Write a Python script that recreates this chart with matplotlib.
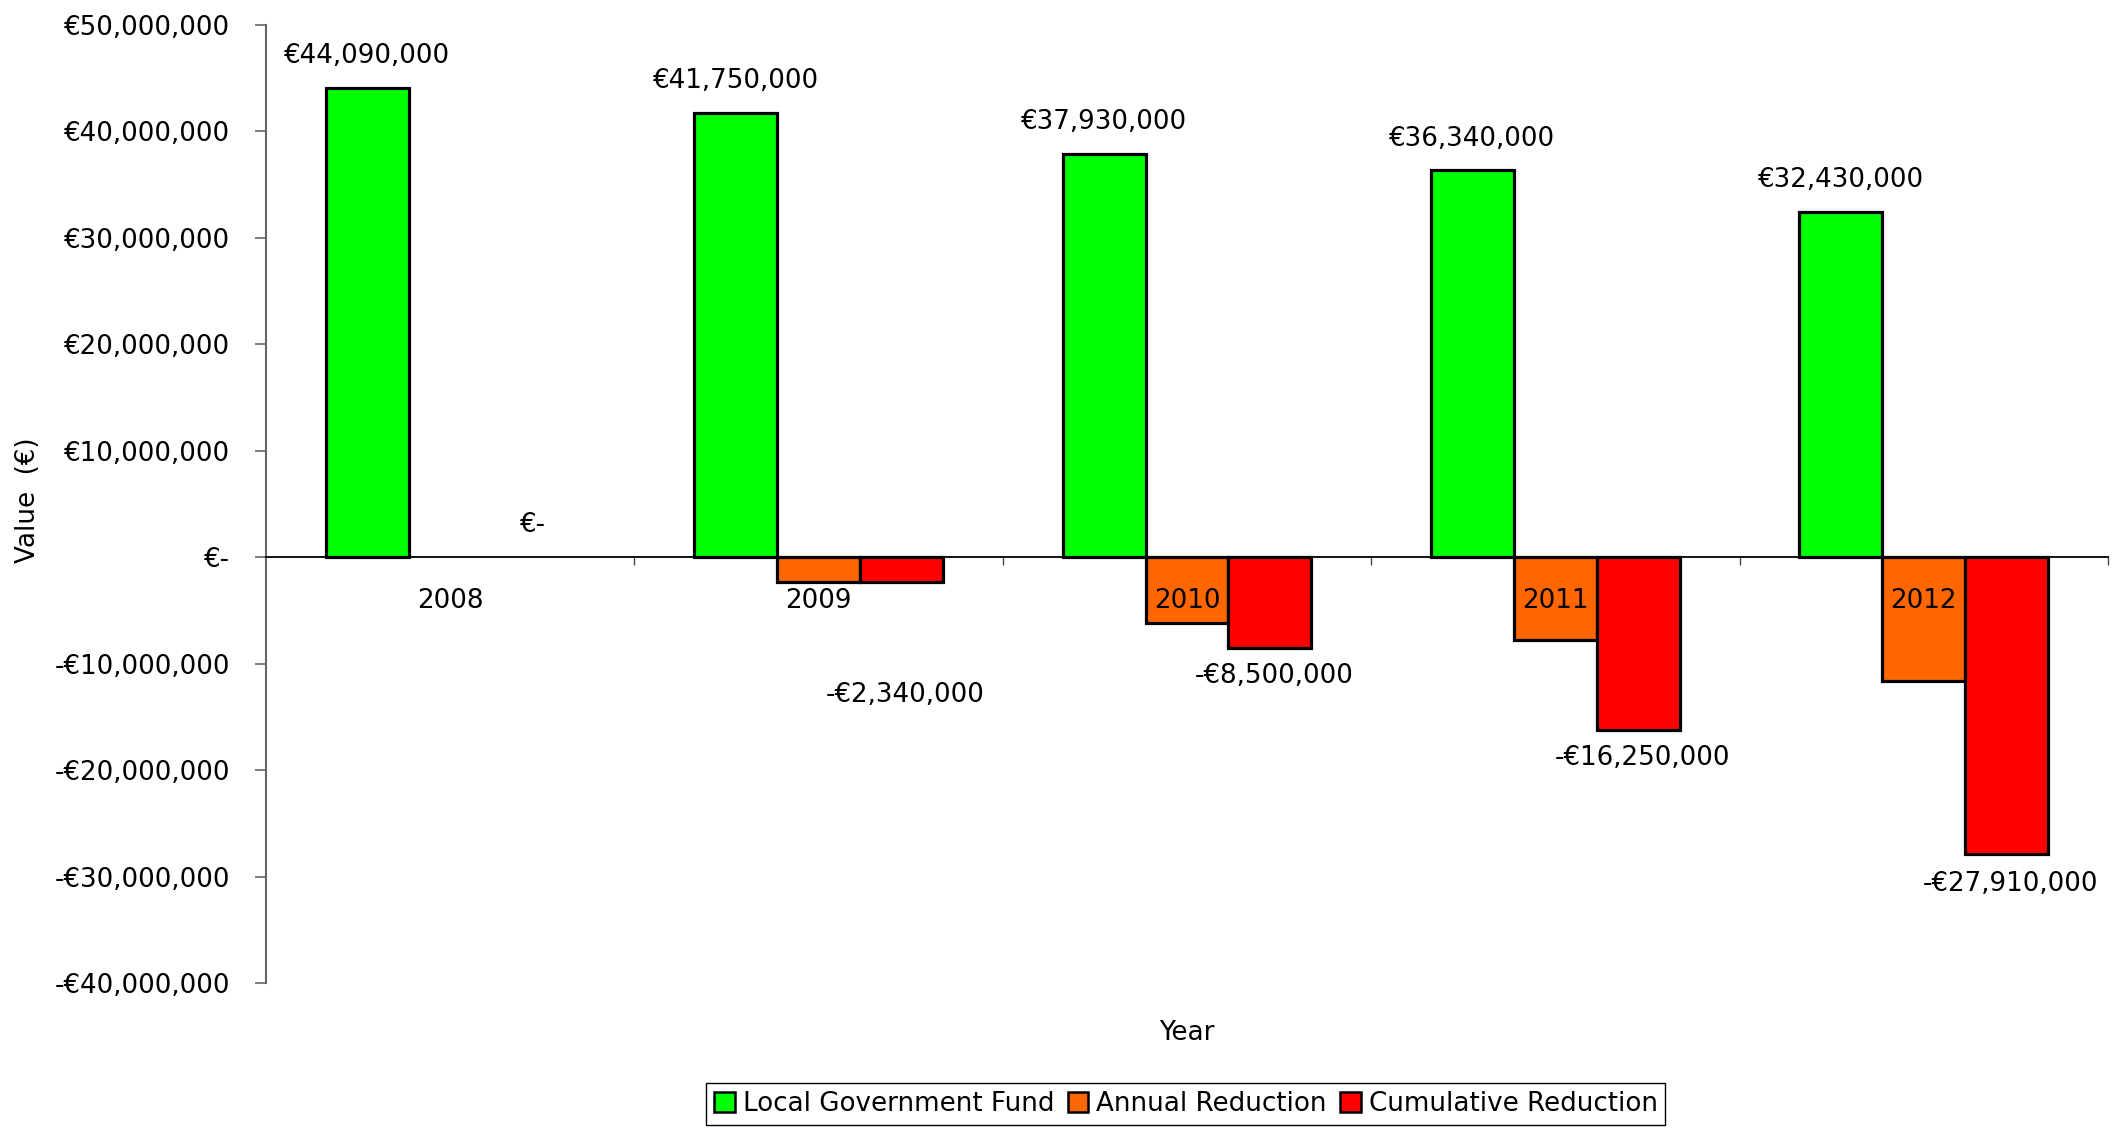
import numpy as np
import matplotlib.pyplot as plt
from matplotlib.patches import Patch
from matplotlib.ticker import FuncFormatter

plt.rcParams['font.family'] = ['DejaVu Sans']
plt.rcParams['font.size'] = 18.8

years = ['2008', '2009', '2010', '2011', '2012']
fund = [44090000, 41750000, 37930000, 36340000, 32430000]
annual = [0, -2340000, -6160000, -7750000, -11660000]
cumulative = [0, -2340000, -8500000, -16250000, -27910000]

series = ['Local Government Fund', 'Annual Reduction', 'Cumulative Reduction']
colors = ['#00ff00', '#ff6600', '#ff0000']


def euro(v, pos=None):
    if v == 0:
        return '€-'
    s = f'€{abs(v):,.0f}'
    return '-' + s if v < 0 else s


def edges(vals):
    # empty bars get no outline
    return [0 if v == 0 else 2.3 for v in vals]


fig, ax = plt.subplots(figsize=(21.2, 11.28), dpi=100)
fig.subplots_adjust(left=0.1255, right=0.9943, top=0.9778, bottom=0.1285)

x = np.arange(len(years))
w = 0.225
for i, vals in enumerate([fund, annual, cumulative]):
    ax.bar(x + (i - 1) * w, vals, w, color=colors[i], edgecolor='black',
           linewidth=edges(vals))

ax.set_xlim(-0.5, len(years) - 0.5)
ax.set_ylim(-40e6, 50e6)
ax.set_yticks(np.arange(-40e6, 50e6 + 1, 10e6))
ax.yaxis.set_major_formatter(FuncFormatter(euro))
ax.tick_params(axis='y', length=8, width=1.2, color='#666666', pad=18)

# years sit just under the zero line, category ticks between groups
ax.spines['bottom'].set_position(('data', 0))
ax.spines['bottom'].set_linewidth(1.3)
ax.spines['left'].set_color('#666666')
ax.spines['left'].set_linewidth(1.5)
ax.spines['top'].set_visible(False)
ax.spines['right'].set_visible(False)
ax.set_xticks(x, years)
ax.set_xticks(list(x + 0.5), minor=True)
ax.tick_params(axis='x', which='major', length=0, pad=22)
ax.tick_params(axis='x', which='minor', length=6, width=1, color='#444444')

# value labels
for xi, v in zip(x, fund):
    ax.annotate(euro(v), (xi - w, v), xytext=(0, 23), textcoords='offset points',
                ha='center', va='center')
cum_offsets = [(0, 23), (3, -81), (3, -20), (3, -20), (3, -21)]
for xi, v, off in zip(x, cumulative, cum_offsets):
    ax.annotate(euro(v), (xi + w, v), xytext=off, textcoords='offset points',
                ha='center', va='center')

ax.set_ylabel('Value  (€)')
ax.yaxis.set_label_coords(-0.122, 0.504)
ax.set_xlabel('Year')
ax.xaxis.set_label_coords(0.5, -0.039)

handles = [Patch(facecolor=c, edgecolor='black', linewidth=1.8) for c in colors]
ax.legend(handles, series, loc='center', bbox_to_anchor=(0.5594, 0.0213),
          bbox_transform=fig.transFigure, ncol=3, frameon=True, fancybox=False,
          edgecolor='black', framealpha=1, handlelength=0.8, handleheight=0.8,
          handletextpad=0.3, columnspacing=0.5, borderpad=0.3, borderaxespad=0)

plt.savefig('out.png', dpi=100, facecolor='white')
